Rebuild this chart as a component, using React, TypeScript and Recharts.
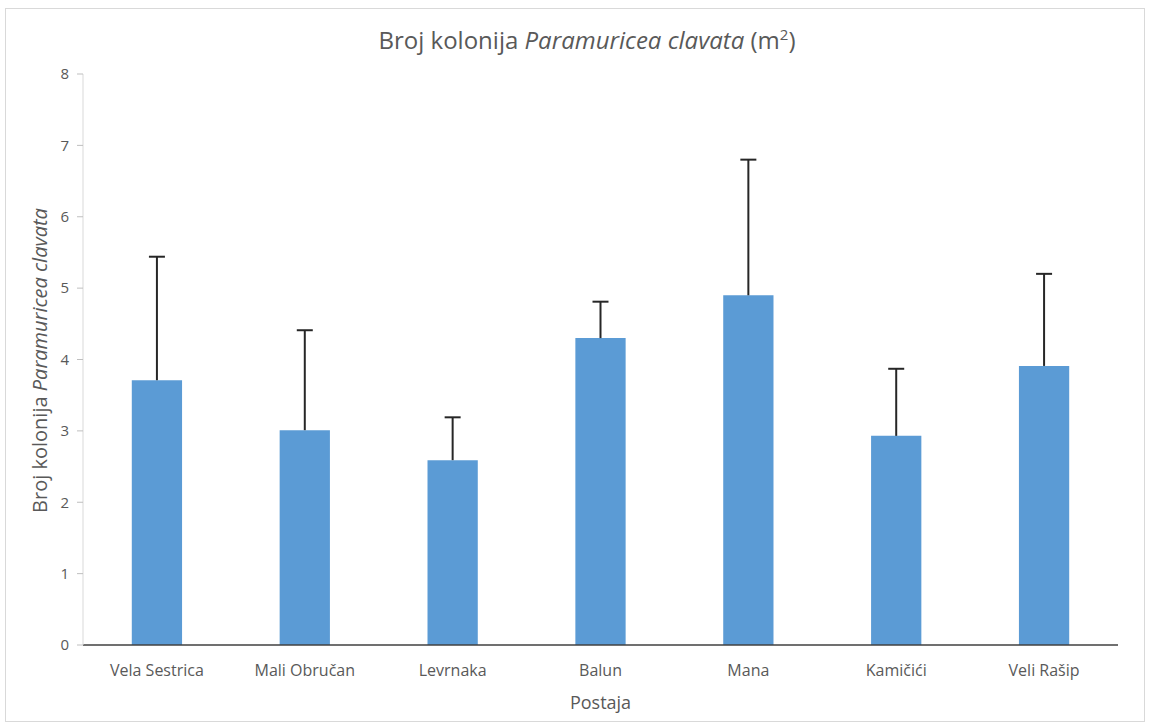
import React from "react";
import { BarChart, Bar, XAxis, YAxis } from "recharts";

const stations = ["Vela Sestrica", "Mali Obručan", "Levrnaka", "Balun", "Mana", "Kamičići", "Veli Rašip"];
const means = [3.71, 3.01, 2.59, 4.3, 4.9, 2.93, 3.91];
const sdUp = [1.73, 1.4, 0.6, 0.51, 1.9, 0.94, 1.29];
const yTicks = [0, 1, 2, 3, 4, 5, 6, 7, 8];

const data = stations.map((name, i) => ({
  name,
  value: means[i],
  sd: sdUp[i],
}));

const font = "'Open Sans', sans-serif";

// whisker drawn on top of the bar, only upward (Excel "plus" error bar)
const Whisker = (props: any) => {
  const { x, y, width, height } = props;
  const cx = x + width / 2;
  return (
    <g stroke="#262626" strokeWidth={2}>
      <line x1={cx} y1={y + height} x2={cx} y2={y} />
      <line x1={cx - 8} y1={y} x2={cx + 8} y2={y} />
    </g>
  );
};

export default function App() {
  return (
    <div
      style={{
        position: "absolute",
        left: 5,
        top: 8,
        width: 1138,
        height: 712,
        border: "1px solid #d9d9d9",
        background: "#fff",
        fontFamily: font,
      }}
    >
      <div
        style={{
          position: "absolute",
          top: 14,
          left: 12,
          width: "100%",
          textAlign: "center",
          fontSize: 24,
          color: "#595959",
        }}
      >
        Broj kolonija <i>Paramuricea clavata</i> (m<sup style={{ fontSize: 15 }}>2</sup>)
      </div>
      <div
        style={{
          position: "absolute",
          left: 33 - 250,
          top: 338,
          width: 500,
          textAlign: "center",
          transform: "rotate(-90deg)",
          fontSize: 20,
          color: "#595959",
        }}
      >
        Broj kolonija <i>Paramuricea clavata</i>
      </div>
      <BarChart
        width={1138}
        height={712}
        data={data}
        margin={{ top: 65, right: 26, bottom: 22, left: 17 }}
        barCategoryGap="67%"
      >
        <XAxis
          dataKey="name"
          tickLine={false}
          axisLine={{ stroke: "#404040", strokeWidth: 1.5 }}
          tick={{ fill: "#595959", fontSize: 16, fontFamily: font }}
          tickMargin={14}
          height={54}
          label={{
            value: "Postaja",
            position: "insideBottom",
            offset: -10,
            fill: "#595959",
            fontSize: 18,
            fontFamily: font,
          }}
        />
        <YAxis
          width={60}
          domain={[0, 8]}
          ticks={yTicks}
          tickLine={{ stroke: "#bfbfbf" }}
          tickSize={6}
          axisLine={{ stroke: "#d9d9d9" }}
          tick={{ fill: "#595959", fontSize: 15, fontFamily: font }}
          tickMargin={8}
        />
        <Bar dataKey="value" stackId="s" fill="#5b9bd5" isAnimationActive={false} />
        <Bar dataKey="sd" stackId="s" shape={Whisker} isAnimationActive={false} />
      </BarChart>
    </div>
  );
}
